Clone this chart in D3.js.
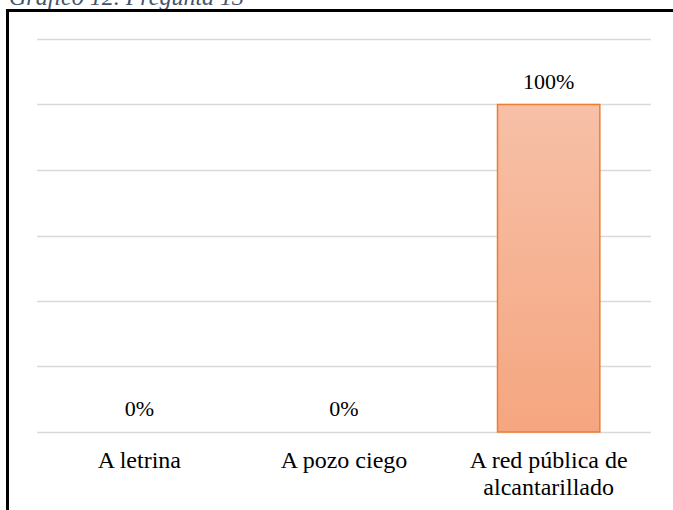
<!DOCTYPE html>
<html><head><meta charset="utf-8">
<script src="https://cdn.jsdelivr.net/npm/d3@7"></script>
<style>body{margin:0;background:#fff;} svg{display:block;}</style>
</head><body>
<script>
const categories = ["A letrina", "A pozo ciego", "A red pública de alcantarillado"];
const categoryLines = [["A letrina"], ["A pozo ciego"], ["A red pública de", "alcantarillado"]];
const values = [0, 0, 1.0];
const valueLabels = ["0%", "0%", "100%"];
const gridTicks = [0, 0.2, 0.4, 0.6, 0.8, 1.0, 1.2];
const title = "Gráfico 12. Pregunta 13";

const W = 673, H = 510;
const svg = d3.select("body").append("svg").attr("width", W).attr("height", H);
const font = "'Liberation Serif', 'Times New Roman', serif";

const defs = svg.append("defs");
const grad = defs.append("linearGradient").attr("id", "g").attr("x1", 0).attr("y1", 0).attr("x2", 0).attr("y2", 1);
grad.append("stop").attr("offset", "0%").attr("stop-color", "#F7C0A7");
grad.append("stop").attr("offset", "100%").attr("stop-color", "#F5A680");

// title (partially cut at top, as in the reference)
svg.append("text").attr("x", 9).attr("y", 5).attr("font-family", font).attr("font-style", "italic")
  .attr("font-size", 24).attr("fill", "#44546A").text(title);

// frame
svg.append("path").attr("d", `M7.5,${H} L7.5,10.5 L${W},10.5`).attr("fill", "none").attr("stroke", "#000").attr("stroke-width", 3);

const x = d3.scaleBand().domain(categories).range([37, 651]).paddingInner(0.5).paddingOuter(0.25);
const y = d3.scaleLinear().domain([0, 1.2]).range([432, 39]);

svg.append("g").selectAll("line").data(gridTicks).join("line")
  .attr("x1", 37).attr("x2", 651).attr("y1", d => Math.round(y(d)) + 0.5).attr("y2", d => Math.round(y(d)) + 0.5)
  .attr("stroke", "#D9D9D9").attr("stroke-width", 1.5);

svg.append("g").selectAll("rect").data(values).join("rect")
  .attr("x", (d, i) => x(categories[i]))
  .attr("width", x.bandwidth())
  .attr("y", d => y(d))
  .attr("height", d => y(0) - y(d))
  .attr("fill", "url(#g)")
  .attr("stroke", d => d > 0 ? "#ED7D31" : "none").attr("stroke-width", 1.5);

svg.append("g").selectAll("text").data(values).join("text")
  .attr("x", (d, i) => x(categories[i]) + x.bandwidth() / 2)
  .attr("y", d => y(d) - 16)
  .attr("text-anchor", "middle").attr("font-family", font).attr("font-size", 22).attr("fill", "#000")
  .text((d, i) => valueLabels[i]);

const lab = svg.append("g");
categories.forEach((c, i) => {
  const t = lab.append("text").attr("x", x(c) + x.bandwidth() / 2).attr("y", 468)
    .attr("text-anchor", "middle").attr("font-family", font).attr("font-size", 24).attr("fill", "#000");
  categoryLines[i].forEach((ln, j) => {
    t.append("tspan").attr("x", x(c) + x.bandwidth() / 2).attr("dy", j === 0 ? 0 : 27).text(ln);
  });
});
</script>
</body></html>
